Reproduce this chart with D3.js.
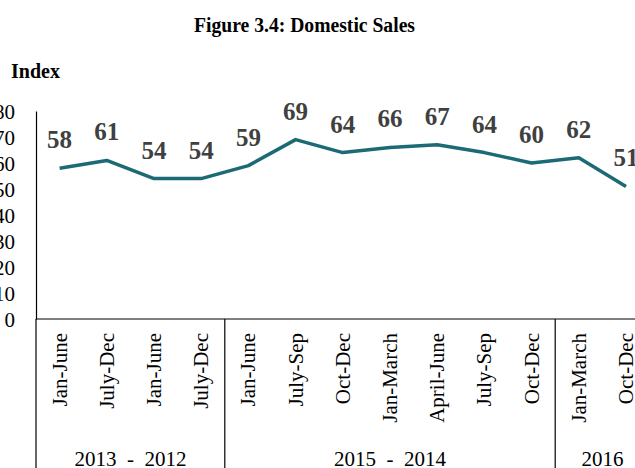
<!DOCTYPE html>
<html><head><meta charset="utf-8">
<script src="https://cdn.jsdelivr.net/npm/d3@7"></script>
<style>body{margin:0;background:#fff}svg{display:block}text{font-family:"Liberation Serif","Times New Roman",serif}</style>
</head><body><svg id="c" width="635" height="468"></svg>
<script>
(function(){
const categories = ["Jan-June","July-Dec","Jan-June","July-Dec","Jan-June","July-Sep","Oct-Dec","Jan-March","April-June","July-Sep","Oct-Dec","Jan-March","Oct-Dec"];
const values = [58,61,54,54,59,69,64,66,67,64,60,62,51];
const groups = [{label:"2013  -  2012", start:0, end:4},{label:"2015  -  2014", start:4, end:11},{label:"2016", start:11, end:13}];
const yTicks = [0,10,20,30,40,50,60,70,80];

const svg = d3.select("#c");
const mLeft = 36, mBottom = 319, mTop = 111;
const step = 47.2;
const x = d3.scaleBand().domain(d3.range(categories.length)).range([mLeft, mLeft + step*categories.length]).paddingInner(0).paddingOuter(0);
const y = d3.scaleLinear().domain([0,80]).range([mBottom, mTop]);

svg.append("text").attr("x",194).attr("y",32).attr("font-size",20).attr("font-weight","bold").text("Figure 3.4: Domestic Sales")
  .attr("textLength",221).attr("lengthAdjust","spacingAndGlyphs");
svg.append("text").attr("x",11).attr("y",78).attr("font-size",20).attr("font-weight","bold").text("Index");

// y axis
const yAxis = d3.axisLeft(y).tickValues(yTicks).tickSize(0).tickPadding(21);
const ga = svg.append("g").attr("transform",`translate(${mLeft},0)`).call(yAxis);
ga.select(".domain").attr("stroke","#000").attr("stroke-width",1.2);
ga.selectAll("text").attr("font-size",21).attr("font-family","Liberation Serif").attr("fill","#000").attr("dy","0.35em");

// x baseline
svg.append("line").attr("x1",mLeft).attr("x2",635).attr("y1",mBottom).attr("y2",mBottom).attr("stroke","#000").attr("stroke-width",1.2);
// group separators
const seps = [0, groups[1].start, groups[2].start];
svg.selectAll(".sep").data(seps).enter().append("line")
  .attr("x1",d=>x(d)).attr("x2",d=>x(d)).attr("y1",mBottom).attr("y2",468).attr("stroke","#000").attr("stroke-width",1.2);

// category labels
svg.selectAll(".cat").data(categories).enter().append("text")
  .attr("transform",(d,i)=>`translate(${x(i)+x.bandwidth()/2+7},333) rotate(-90)`)
  .attr("text-anchor","end").attr("font-size",21).attr("fill","#000").text(d=>d);

// group labels
svg.selectAll(".grp").data(groups).enter().append("text")
  .attr("x",d=>(x(d.start)+x(d.end-1)+x.bandwidth())/2).attr("y",466)
  .attr("text-anchor","middle").attr("font-size",21).attr("fill","#000").attr("xml:space","preserve").style("white-space","pre").text(d=>d.label);

// line
const line = d3.line().x((d,i)=>x(i)+x.bandwidth()/2).y(d=>y(d));
svg.append("path").datum(values).attr("d",line).attr("fill","none").attr("stroke","#1c6a75").attr("stroke-width",3.5).attr("stroke-linejoin","round");

// data labels
svg.selectAll(".lbl").data(values).enter().append("text")
  .attr("x",(d,i)=>x(i)+x.bandwidth()/2).attr("y",d=>y(d)-20)
  .attr("text-anchor","middle").attr("font-size",25).attr("font-weight","bold").attr("fill","#404040").text(d=>d);
})();
</script></body></html>
